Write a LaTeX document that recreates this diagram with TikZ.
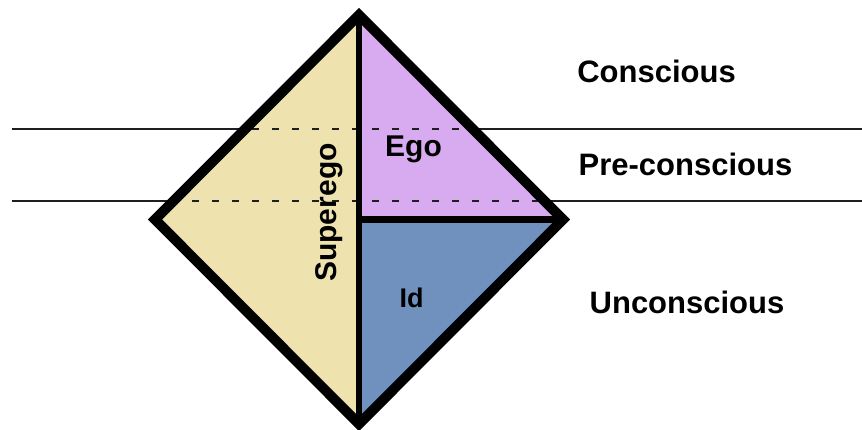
\documentclass[tikz,border=0pt]{standalone}
\usepackage{fontspec}
\setmainfont{Liberation Sans}
\definecolor{supcol}{RGB}{238,226,174}
\definecolor{egocol}{RGB}{216,170,240}
\definecolor{idcol}{RGB}{112,145,190}
\definecolor{levelcol}{RGB}{30,30,30}
\begin{document}
\begin{tikzpicture}[x=1pt,y=-1pt,
  levelline/.style={draw=levelcol,line width=1.3pt},
  dashline/.style={draw=levelcol,line width=1.3pt,dash pattern=on 7pt off 13pt},
  innerline/.style={draw=black,line width=6.5pt},
  outerline/.style={draw=black,line width=10pt,line join=miter},
  lbl/.style={inner sep=0pt,anchor=base,font=\bfseries\fontsize{31}{36}\selectfont},
  inlbl/.style={inner sep=0pt,anchor=base,font=\bfseries\fontsize{30}{36}\selectfont}]
\useasboundingbox (0,0) rectangle (862,429);
\coordinate (T) at (359,15);
\coordinate (L) at (155,219.5);
\coordinate (R) at (563,219.5);
\coordinate (B) at (359,424);
\coordinate (C) at (359,219.5);
\coordinate (A1) at (12,129);
\coordinate (A2) at (862,129);
\coordinate (B1) at (12,201);
\coordinate (B2) at (862,201);
% level lines
\draw[levelline] (A1) -- (A2);
\draw[levelline] (B1) -- (B2);
% regions
\fill[supcol] (T) -- (L) -- (B) -- cycle;
\fill[egocol] (T) -- (C) -- (R) -- cycle;
\fill[idcol] (C) -- (R) -- (B) -- cycle;
% dashed parts inside
\begin{scope}
  \clip (T) -- (L) -- (B) -- (R) -- cycle;
  \draw[dashline] (A1) -- (A2);
  \draw[dashline] (B1) -- (B2);
\end{scope}
% dividers and outline
\draw[innerline] (T) -- (B);
\draw[innerline] (C) -- (R);
\draw[outerline] (T) -- (L) -- (B) -- (R) -- cycle;
% labels
\node[inlbl] (ego) at (413.5,156) {Ego};
\node[inlbl,font=\bfseries\fontsize{27}{32}\selectfont] (id) at (411.5,307) {Id};
\node[inlbl,rotate=90] (superego) at (336,212.5) {Superego};
\node[lbl] (conscious) at (656.5,82) {Conscious};
\node[lbl] (preconscious) at (685.5,175) {Pre-conscious};
\node[lbl] (unconscious) at (687,313) {Unconscious};
\end{tikzpicture}
\end{document}
